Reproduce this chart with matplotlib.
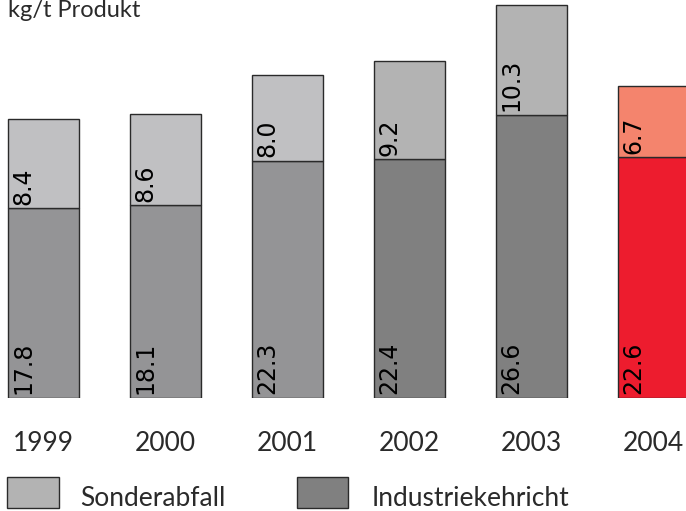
import matplotlib
matplotlib.use('Agg')
import matplotlib.pyplot as plt
from matplotlib.patches import Rectangle

years = ['1999', '2000', '2001', '2002', '2003', '2004']
industriekehricht = [17.8, 18.1, 22.3, 22.4, 26.6, 22.6]
sonderabfall = [8.4, 8.6, 8.0, 9.2, 10.3, 6.7]

bottom_colors = ['#949496', '#949496', '#949496', '#808080', '#808080', '#ed1c2e']
top_colors = ['#c0c0c2', '#c0c0c2', '#c0c0c2', '#b3b3b3', '#b3b3b3', '#f4846d']

W, H = 686, 511
fig = plt.figure(figsize=(W / 100, H / 100), dpi=100)
ax = fig.add_axes([0, 113 / H, 1, 1 - 113 / H])

x = list(range(len(years)))
width = 0.582
ax.bar(x, industriekehricht, width=width, color=bottom_colors,
       edgecolor='#2a2a2a', linewidth=1.0)
ax.bar(x, sonderabfall, width=width, bottom=industriekehricht,
       color=top_colors, edgecolor='#2a2a2a', linewidth=1.0)

ax.set_xlim(-43.5 / 122, (W - 43.5) / 122)
ax.set_ylim(0, 398 / 10.65)
ax.axis('off')

label_font = dict(family=['Liberation Sans Narrow', 'DejaVu Sans'], fontsize=17)
for i in x:
    left = i - width / 2 + 0.025
    ax.text(left, 0.35, f'{industriekehricht[i]:.1f}', rotation=90,
            ha='left', va='bottom', color='black', **label_font)
    ax.text(left, industriekehricht[i] + 0.35, f'{sonderabfall[i]:.1f}',
            rotation=90, ha='left', va='bottom', color='black', **label_font)

text_font = dict(family=['Lato', 'DejaVu Sans'], fontweight='normal', color='#2a2a2a')
for i in x:
    ax.text(i, -4.3, years[i], ha='center', va='center', fontsize=19,
            clip_on=False, **text_font)

fig.text(8 / W, 1 - 17 / H, 'kg/t Produkt', ha='left', va='baseline',
         fontsize=17, **text_font)

# legend
fig.add_artist(Rectangle((7 / W, 1 - 508 / H), 52 / W, 31 / H,
                         transform=fig.transFigure, facecolor='#b3b3b3',
                         edgecolor='#2a2a2a', linewidth=1.0))
fig.add_artist(Rectangle((297 / W, 1 - 508 / H), 51 / W, 31 / H,
                         transform=fig.transFigure, facecolor='#808080',
                         edgecolor='#2a2a2a', linewidth=1.0))
fig.text(80 / W, 1 - 506 / H, 'Sonderabfall', ha='left', va='baseline',
         fontsize=19, **text_font)
fig.text(372 / W, 1 - 506 / H, 'Industriekehricht', ha='left', va='baseline',
         fontsize=19, **text_font)

fig.savefig('out.png', dpi=100)
